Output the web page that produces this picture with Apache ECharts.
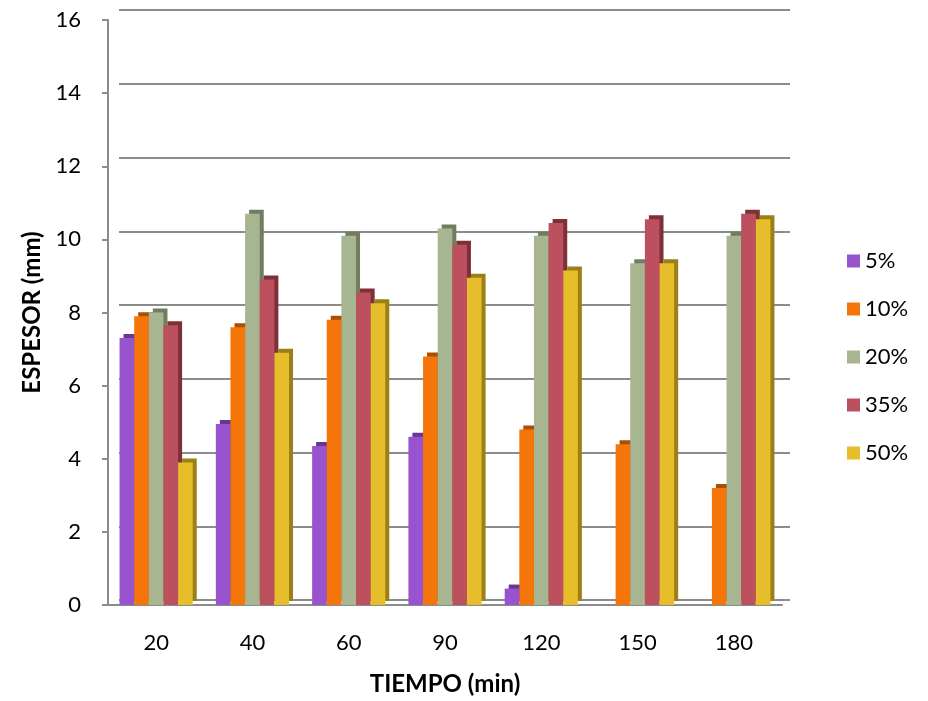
<!DOCTYPE html>
<html>
<head>
<meta charset="utf-8">
<script src="https://cdn.jsdelivr.net/npm/echarts@6/dist/echarts.min.js"></script>
<style>
  html, body { margin: 0; padding: 0; background: #fff; }
  #main { width: 928px; height: 701px; }
</style>
</head>
<body>
<div id="main"></div>
<script>
// datos
var tiempos = ['20', '40', '60', '90', '120', '150', '180'];
var s5  = [7.3, 4.95, 4.35, 4.6, 0.45, null, null];
var s10 = [7.9, 7.6, 7.8, 6.8, 4.8, 4.4, 3.2];
var s20 = [8.0, 10.7, 10.1, 10.3, 10.1, 9.35, 10.1];
var s35 = [7.65, 8.9, 8.55, 9.85, 10.45, 10.55, 10.7];
var s50 = [3.9, 6.9, 8.25, 8.95, 9.15, 9.35, 10.55];

var nombres = ['5%', '10%', '20%', '35%', '50%'];
var colores = ['#9853cf', '#f4760b', '#a8b591', '#bc505e', '#e6bd2a'];
var lados   = ['#6a3593', '#a94f06', '#727c61', '#7e3039', '#9b7f17'];

var chart = echarts.init(document.getElementById('main'));
var font = 'Lato, "Liberation Sans", sans-serif';

function serie(i, data) {
  return {
    name: nombres[i],
    type: 'bar',
    xAxisIndex: 0,
    yAxisIndex: 0,
    barGap: '0%',
    barCategoryGap: '24%',
    data: data,
    itemStyle: {
      color: colores[i],
      shadowColor: lados[i],
      shadowBlur: 0,
      shadowOffsetX: 4,
      shadowOffsetY: -4
    }
  };
}

var option = {
  backgroundColor: '#fff',
  animation: false,
  legend: {
    orient: 'vertical',
    left: 842,
    top: 245,
    itemWidth: 13,
    itemHeight: 13,
    itemGap: 26,
    icon: 'rect',
    textStyle: { fontFamily: font, fontSize: 22, color: '#000', padding: [0, 0, 0, 0] },
    data: nombres
  },
  grid: [
    { left: 108, right: 146, top: 20, bottom: 93 },
    { left: 119, right: 138, top: 10, bottom: 101 }
  ],
  xAxis: [{
    type: 'category',
    gridIndex: 0,
    data: tiempos,
    axisLine: { show: true, lineStyle: { color: '#8c8c8c', width: 2 } },
    axisTick: { show: false },
    axisLabel: { fontFamily: font, fontSize: 22, color: '#000', margin: 27 },
    name: 'TIEMPO (min)',
    nameLocation: 'middle',
    nameGap: 67,
    nameTextStyle: { fontFamily: font, fontSize: 24, fontWeight: 'bold', color: '#000' }
  }, {
    type: 'category',
    gridIndex: 1,
    data: tiempos,
    show: false
  }],
  yAxis: [{
    type: 'value',
    gridIndex: 0,
    min: 0,
    max: 16,
    interval: 2,
    axisLine: { show: true, lineStyle: { color: '#8c8c8c', width: 2 } },
    axisTick: { show: true, inside: false, length: 6, lineStyle: { color: '#8c8c8c', width: 2 } },
    axisLabel: { fontFamily: font, fontSize: 22, color: '#000', margin: 27 },
    splitLine: { show: false },
    name: 'ESPESOR (mm)',
    nameLocation: 'middle',
    nameGap: 64,
    nameRotate: 90,
    nameTextStyle: { fontFamily: font, fontSize: 24, fontWeight: 'bold', color: '#000' }
  }, {
    type: 'value',
    gridIndex: 1,
    min: 0,
    max: 16,
    interval: 2,
    axisLine: { show: false },
    axisTick: { show: false },
    axisLabel: { show: false },
    splitLine: { show: true, lineStyle: { color: '#8c8c8c', width: 2 } }
  }],
  series: [
    serie(0, s5),
    serie(1, s10),
    serie(2, s20),
    serie(3, s35),
    serie(4, s50)
  ]
};

chart.setOption(option);
</script>
</body>
</html>
